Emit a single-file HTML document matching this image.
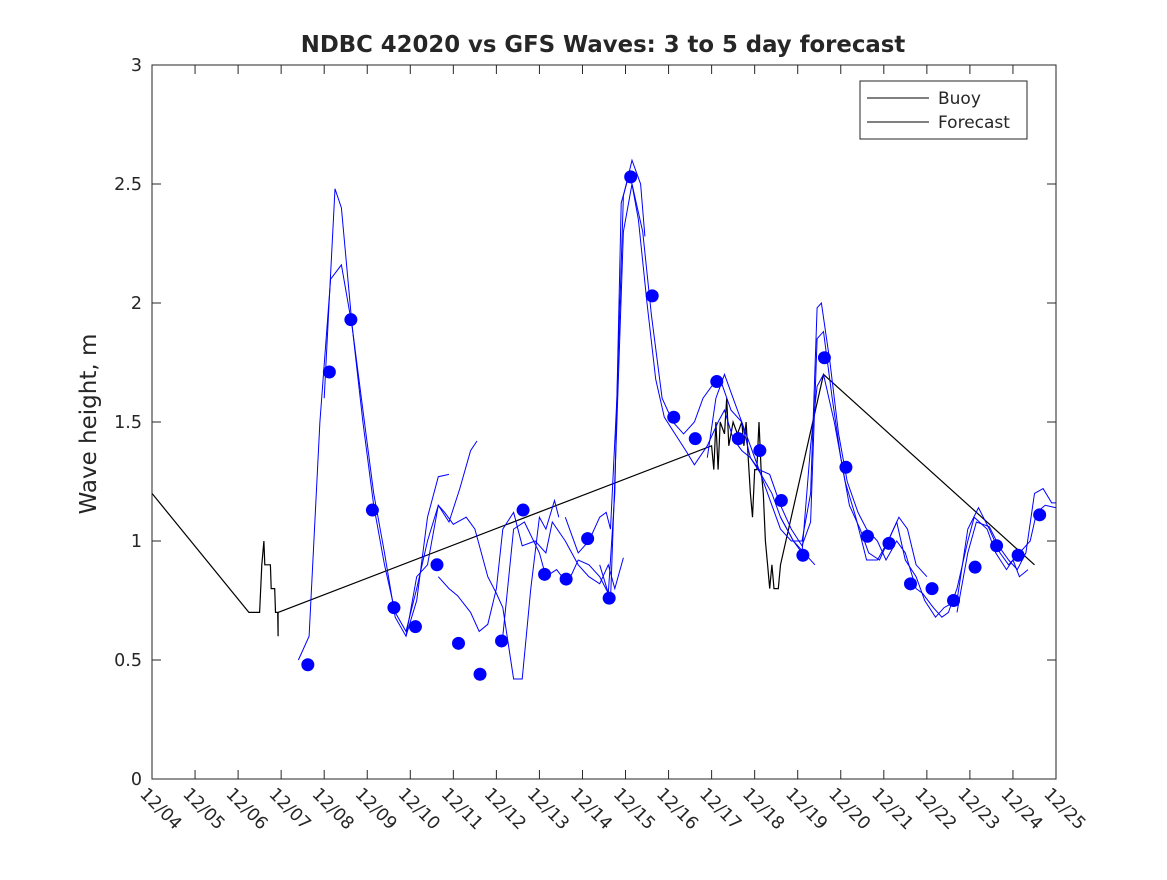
<!DOCTYPE html>
<html><head><meta charset="utf-8"><style>
body{margin:0;background:#fff;}
svg text{font-family:"DejaVu Sans","Liberation Sans",sans-serif;fill:#262626;}
</style></head><body>
<svg id="chart" width="1167" height="875" viewBox="0 0 1167 875" xmlns="http://www.w3.org/2000/svg">
<rect width="1167" height="875" fill="#fff"/>
<text x="603" y="52" text-anchor="middle" font-size="22.8" font-weight="bold" fill="#000">NDBC 42020 vs GFS Waves: 3 to 5 day forecast</text>
<text transform="translate(96,424) rotate(-90)" text-anchor="middle" font-size="23">Wave height, m</text>
<g id="plot"></g>
<g id="axes"></g>
<g>
<rect x="860" y="81" width="167" height="58" fill="#fff" stroke="#262626" stroke-width="1"/>
<line x1="867" y1="98" x2="929" y2="98" stroke="#000"/>
<text x="938" y="104" font-size="17">Buoy</text>
<line x1="867" y1="122" x2="929" y2="122" stroke="#000"/>
<text x="938" y="128" font-size="17">Forecast</text>
</g>
</svg>
<script>
const xTickLabels=["12/04","12/05","12/06","12/07","12/08","12/09","12/10","12/11","12/12","12/13","12/14","12/15","12/16","12/17","12/18","12/19","12/20","12/21","12/22","12/23","12/24","12/25"];
const yTicks=[0,0.5,1,1.5,2,2.5,3];
const yTickLabels=["0","0.5","1","1.5","2","2.5","3"];
const buoyDays=[0,2.25,2.5,2.55,2.6,2.62,2.75,2.77,2.85,2.87,2.92,2.93,2.93,13.0,13.05,13.1,13.15,13.2,13.3,13.35,13.4,13.5,13.6,13.7,13.75,13.8,13.85,13.9,13.95,14.0,14.05,14.1,14.15,14.2,14.25,14.3,14.35,14.4,14.45,14.55,14.6,15.6,20.5];
const buoyVals=[1.2,0.7,0.7,0.9,1.0,0.9,0.9,0.8,0.8,0.7,0.7,0.6,0.7,1.4,1.3,1.5,1.3,1.5,1.45,1.6,1.4,1.5,1.45,1.5,1.4,1.5,1.35,1.2,1.1,1.3,1.3,1.5,1.3,1.2,1.0,0.9,0.8,0.9,0.8,0.8,0.9,1.7,0.9];
const dotStartDay=3.62, dotStep=0.5;
const dotVals=[0.48,1.71,1.93,1.13,0.72,0.64,0.90,0.57,0.44,0.58,1.13,0.86,0.84,1.01,0.76,2.53,2.03,1.52,1.43,1.67,1.43,1.38,1.17,0.94,1.77,1.31,1.02,0.99,0.82,0.80,0.75,0.89,0.98,0.94,1.11];
const f1Days=[3.4,3.65,3.9,4.15,4.4,4.65,4.9,5.15,5.4,5.65,5.9,6.15,6.4,6.65,6.9];
const f1Vals=[0.5,0.6,1.5,2.1,2.16,1.9,1.55,1.2,0.95,0.68,0.6,0.75,1.1,1.27,1.28];
const f2Days=[4.0,4.25,4.4,4.65,4.9,5.15,5.4,5.65,5.9,6.15,6.4,6.65,6.9,7.15,7.4,7.55];
const f2Vals=[1.6,2.48,2.4,1.9,1.5,1.15,0.9,0.7,0.62,0.8,1.0,1.15,1.08,1.22,1.38,1.42];
const f3Days=[5.9,6.15,6.4,6.65,6.8,7.0,7.3,7.5,7.8,8.0,8.15,8.4,8.6,8.8,9.0,9.15,9.35,9.45];
const f3Vals=[0.6,0.85,0.9,1.15,1.12,1.07,1.1,1.05,0.85,0.78,0.72,0.42,0.42,0.8,1.1,1.05,1.17,1.1];
const f4Days=[6.65,6.9,7.1,7.4,7.6,7.8,8.0,8.15,8.4,8.6,8.9,9.15,9.3,9.6,9.9,10.15,10.4,10.6,10.75,10.95];
const f4Vals=[0.85,0.8,0.77,0.7,0.62,0.65,0.8,1.05,1.12,0.98,1.0,0.95,1.08,1.0,0.9,0.85,0.82,0.9,0.8,0.93];
const f5Days=[8.15,8.4,8.65,9.0,9.15,9.4,9.65,9.9,10.15,10.4,10.6,10.75,10.9,11.1,11.3,11.5,11.7,11.9,12.15,12.4,12.6,12.9,13.15,13.3,13.5,13.7,13.9,14.15,14.4,14.6,14.9,15.15,15.4];
const f5Vals=[0.6,1.05,1.08,0.95,0.85,0.88,0.82,0.92,0.9,0.85,0.78,1.2,2.42,2.55,2.35,2.0,1.68,1.52,1.45,1.38,1.32,1.4,1.5,1.55,1.43,1.38,1.35,1.28,1.2,1.1,1.0,0.95,0.9];
const f6Days=[9.6,9.9,10.15,10.4,10.55,10.65,10.8,10.95,11.15,11.35,11.45];
const f6Vals=[1.1,0.95,1.0,1.1,1.12,1.05,1.6,2.45,2.6,2.5,2.28];
const f7Days=[10.4,10.65,10.8,10.95,11.15,11.4,11.6,11.85,12.1,12.35,12.6,12.8,13.0,13.2,13.45,13.7,13.9,14.1,14.35,14.6,14.85,15.1,15.3,15.45,15.6,15.8,16.0,16.2,16.45,16.65,16.9,17.1,17.35,17.55,17.75,18.0];
const f7Vals=[0.9,0.75,1.5,2.3,2.5,2.3,1.95,1.6,1.5,1.45,1.5,1.6,1.65,1.68,1.55,1.5,1.35,1.3,1.28,1.15,1.05,0.98,1.08,1.85,1.88,1.6,1.35,1.15,1.05,0.95,0.92,1.0,1.1,1.05,0.9,0.85];
const f8Days=[12.9,13.1,13.3,13.5,13.7,13.9,14.1,14.4,14.6,14.85,15.1,15.3,15.45,15.55,15.75,15.95,16.15,16.4,16.6,16.85,17.05,17.3,17.5,17.75,17.9,18.15,18.35,18.5,18.7,18.95,19.1,19.4,19.6,19.85,20.0,20.15,20.35];
const f8Vals=[1.35,1.6,1.7,1.6,1.5,1.4,1.3,1.15,1.05,1.0,1.0,1.2,1.98,2.0,1.75,1.45,1.25,1.12,1.05,1.0,0.92,1.0,0.95,0.8,0.78,0.72,0.68,0.7,0.8,1.0,1.1,1.05,0.95,0.88,0.92,0.85,0.88];
const f9Days=[14.6,14.9,15.1,15.3,15.45,15.6,15.85,16.1,16.35,16.6,16.85,17.1,17.3,17.5,17.75,17.95,18.2,18.4,18.7,18.95,19.2,19.45,19.7,19.9,20.15,20.4,20.55,20.75,21.0];
const f9Vals=[1.1,1.0,0.95,1.4,1.65,1.7,1.5,1.25,1.1,0.92,0.92,1.0,1.08,0.92,0.85,0.75,0.68,0.72,0.75,1.05,1.14,1.05,0.95,0.9,0.95,1.0,1.12,1.15,1.14];
const f10Days=[18.7,18.95,19.15,19.45,19.7,19.9,20.1,20.3,20.5,20.7,20.9,21.0];
const f10Vals=[0.7,0.95,1.08,1.06,0.97,0.92,0.88,0.95,1.2,1.22,1.16,1.16];

const X0=152,X1=1056,Y0=779,Y1=65;
const xs=d=>X0+d*(X1-X0)/21;
const ys=v=>Y0-v*(Y0-Y1)/3;
const NS="http://www.w3.org/2000/svg";
const plot=document.getElementById('plot'), axes=document.getElementById('axes');
function mk(tag,attrs,parent){const e=document.createElementNS(NS,tag);for(const k in attrs)e.setAttribute(k,attrs[k]);parent.appendChild(e);return e;}
function line(days,vals,color,w,name){
  const p=mk('polyline',{points:days.map((d,i)=>xs(d).toFixed(1)+','+ys(vals[i]).toFixed(1)).join(' '),fill:'none',stroke:color,'stroke-width':w},plot);
  
  
}
line(buoyDays,buoyVals,'#000',1.2,'buoy-line');
const fc=[[f1Days,f1Vals],[f2Days,f2Vals],[f3Days,f3Vals],[f4Days,f4Vals],[f5Days,f5Vals],[f6Days,f6Vals],[f7Days,f7Vals],[f8Days,f8Vals],[f9Days,f9Vals],[f10Days,f10Vals]];
fc.forEach((s,i)=>line(s[0],s[1],'#0000ff',1,'forecast-line-'+(i+1)));
dotVals.forEach((v,i)=>{
  const c=mk('circle',{cx:xs(dotStartDay+i*dotStep),cy:ys(v),r:6.5,fill:'#0000ff'},plot);
  
  
});
const fr=mk('rect',{x:X0,y:Y1,width:X1-X0,height:Y0-Y1,fill:'none',stroke:'#262626','stroke-width':1},axes);


xTickLabels.forEach((t,i)=>{
  const x=xs(i);
  mk('line',{x1:x,y1:Y0,x2:x,y2:Y0-9,stroke:'#262626'},axes);
  mk('line',{x1:x,y1:Y1,x2:x,y2:Y1+9,stroke:'#262626'},axes);
  const tx=mk('text',{transform:`translate(${x-13},${Y0+16}) rotate(45)`,'font-size':17.5},axes);
  tx.textContent=t;
  
  
});
yTicks.forEach((v,i)=>{
  const y=ys(v);
  mk('line',{x1:X0,y1:y,x2:X0+9,y2:y,stroke:'#262626'},axes);
  mk('line',{x1:X1,y1:y,x2:X1-9,y2:y,stroke:'#262626'},axes);
  const tx=mk('text',{x:X0-10,y:y+6,'text-anchor':'end','font-size':17.5},axes);
  tx.textContent=yTickLabels[i];
  
  
});
</script>
</body></html>
